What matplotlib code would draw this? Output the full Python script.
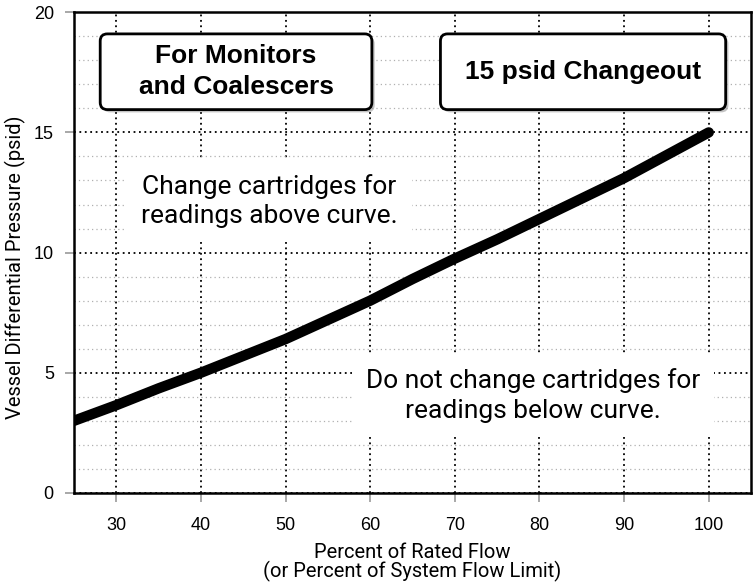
import matplotlib
matplotlib.use("Agg")
import matplotlib.pyplot as plt
from matplotlib.patches import FancyBboxPatch
import matplotlib.patheffects as pe
from matplotlib.ticker import MultipleLocator

# Data
flow_pct = [25, 30, 35, 40, 45, 50, 55, 60, 65, 70, 75, 80, 85, 90, 95, 100]
pressure_psid = [3.0, 3.65, 4.35, 5.0, 5.7, 6.4, 7.2, 8.0, 8.9, 9.75, 10.55, 11.4, 12.25, 13.1, 14.05, 15.0]
x_ticks = [30, 40, 50, 60, 70, 80, 90, 100]
y_ticks = [0, 5, 10, 15, 20]

fig = plt.figure(figsize=(7.54, 5.84), dpi=100)
ax = fig.add_axes([0.0981, 0.156, 0.898, 0.823])

ax.set_xlim(25, 105)
ax.set_ylim(0, 20)
ax.set_xticks(x_ticks)
ax.set_yticks(y_ticks)
ax.yaxis.set_minor_locator(MultipleLocator(1))

ax.grid(which='major', color='black', linestyle=(0, (1, 2)), linewidth=1.3, zorder=0)
ax.grid(which='minor', axis='y', color='#b0b0b0', linestyle=(0, (1, 2.5)), linewidth=0.9, zorder=0)
ax.set_axisbelow(True)

for s in ax.spines.values():
    s.set_linewidth(1.8)
    s.set_color('black')

ax.tick_params(which='major', length=6.5, width=1.2, color='#999999', labelsize=13)
ax.tick_params(axis='x', pad=11)
ax.tick_params(axis='y', pad=8)
ax.tick_params(which='minor', length=0)
for lab in ax.get_xticklabels() + ax.get_yticklabels():
    lab.set_fontfamily('Liberation Sans')

ax.plot(flow_pct, pressure_psid, color='black', linewidth=7.5, solid_capstyle='round',
        solid_joinstyle='round', zorder=5)

txt_font = 'Roboto'

# Text annotations with white background
ax.text(48.1, 12.15, "Change cartridges for\nreadings above curve.", ha='center', va='center',
        fontsize=19, family=txt_font, linespacing=1.27, zorder=4,
        bbox=dict(facecolor='white', edgecolor='none', pad=10))
ax.text(79.2, 4.05, "Do not change cartridges for\nreadings below curve.", ha='center', va='center',
        fontsize=19, family=txt_font, linespacing=1.27, zorder=4,
        bbox=dict(facecolor='white', edgecolor='none', pad=10))

# Title boxes
def title_box(x0, y0, x1, y1, text):
    box = FancyBboxPatch((x0, y0), x1 - x0, y1 - y0,
                         boxstyle="round,pad=0,rounding_size=0.85",
                         mutation_aspect=8.467 / 24,
                         facecolor='white', edgecolor='black', linewidth=2, zorder=6)
    box.set_path_effects([pe.SimplePatchShadow(offset=(2, -2), shadow_rgbFace='#888888', alpha=0.5),
                          pe.Normal()])
    ax.add_patch(box)
    ax.text((x0 + x1) / 2, (y0 + y1) / 2, text, ha='center', va='center',
            fontsize=19, fontweight='bold', family='Liberation Sans', linespacing=1.38, zorder=7)

title_box(28.1, 15.95, 60.2, 19.1, "For Monitors\nand Coalescers")
title_box(68.3, 15.95, 102.0, 19.1, "15 psid Changeout")

ax.set_xlabel("Percent of Rated Flow\n(or Percent of System Flow Limit)", fontsize=14.5,
              family=txt_font, linespacing=0.95, labelpad=6)
fig.text(0.02, 1 - 267 / 584, "Vessel Differential Pressure (psid)", rotation=90,
         ha='center', va='center', fontsize=14.5, family=txt_font)

fig.savefig("out.png", dpi=100)
